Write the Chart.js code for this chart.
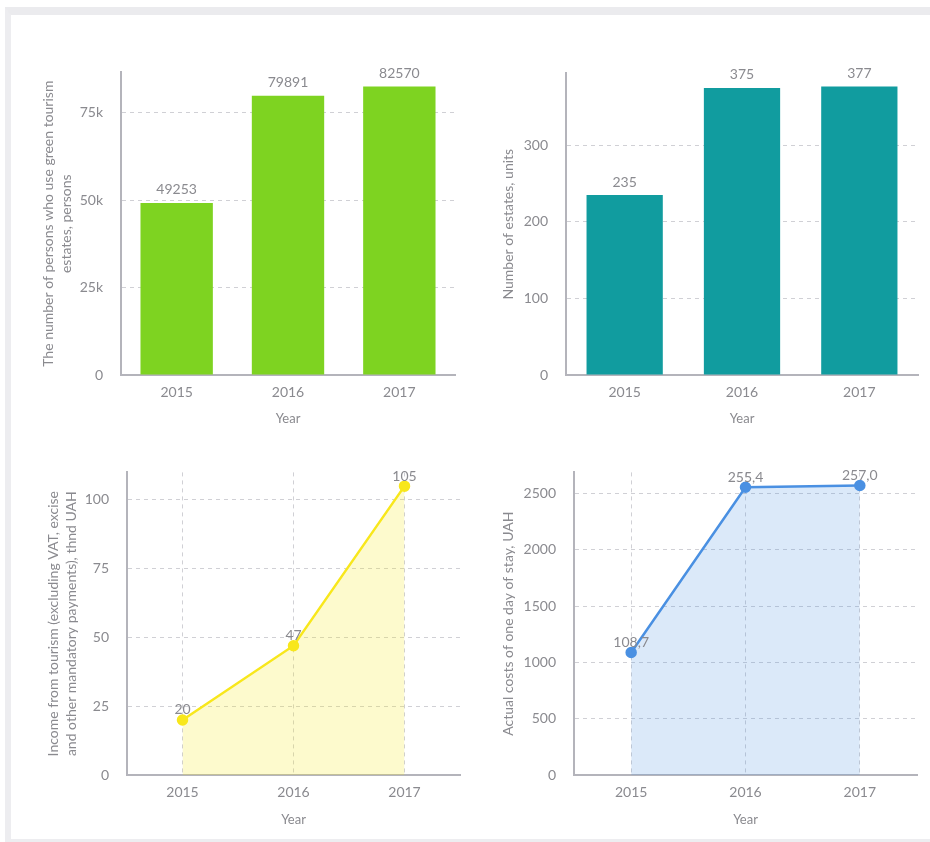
<!DOCTYPE html>
<html>
<head>
<meta charset="utf-8">
<script src="https://cdn.jsdelivr.net/npm/chart.js@4.4.0/dist/chart.umd.min.js"></script>
<style>
  html, body { margin: 0; padding: 0; background: #fff; }
  body { width: 930px; height: 842px; position: relative; overflow: hidden; font-family: Lato, sans-serif; }
  #frame {
    position: absolute; left: 5px; top: 7px; width: 940px; height: 824px;
    border-top: 8px solid #ebebee; border-left: 6px solid #ededf0; border-bottom: 3px solid #ededf0;
    background: #fff;
  }
  .box { position: absolute; }
</style>
</head>
<body>
<div id="frame"></div>
<div class="box" style="left:30px; top:46px; width:440px; height:381px;"><canvas id="grafico-pessoas"></canvas></div>
<div class="box" style="left:480px; top:47px; width:450px; height:380px;"><canvas id="grafico-propriedades"></canvas></div>
<div class="box" style="left:30px; top:446px; width:440px; height:382px;"><canvas id="grafico-renda"></canvas></div>
<div class="box" style="left:480px; top:446px; width:450px; height:382px;"><canvas id="grafico-custos"></canvas></div>
<script>
// Categorias (anos)
var anos = ["2015", "2016", "2017"];

// Pessoas que usam propriedades de turismo verde
var dadosPessoas = [49253, 79891, 82570];
var ticksPessoas = [0, 25000, 50000, 75000];
// Número de propriedades
var dadosPropriedades = [235, 375, 377];
var ticksPropriedades = [0, 100, 200, 300];
// Renda do turismo, mil UAH
var dadosRenda = [20, 47, 105];
var ticksRenda = [0, 25, 50, 75, 100];
// Custo de um dia de estadia (valor plotado) e rótulo mostrado
var dadosCustos = [1087, 2554, 2570];
var rotulosCustos = ["108,7", "255,4", "257,0"];
var ticksCustos = [0, 500, 1000, 1500, 2000, 2500];

var corTexto = "#8a8a8f";
var corEixo = "#b4b4bb";
var corGrade = "#d0d0d5";

// plugin simples para escrever os valores acima das barras/pontos
var pluginRotulos = {
  id: "rotulos",
  afterDatasetsDraw: function (chart, args, opts) {
    var ctx = chart.ctx;
    var meta = chart.getDatasetMeta(0);
    var textos = opts.textos || chart.data.datasets[0].data;
    ctx.save();
    ctx.font = "14px Lato";
    ctx.fillStyle = corTexto;
    ctx.textAlign = "center";
    ctx.textBaseline = "bottom";
    meta.data.forEach(function (el, i) {
      ctx.fillText(String(textos[i]), el.x, el.y - (opts.gap || 6));
    });
    ctx.restore();
  },
};

function eixos(cfg) {
  return {
    x: {
      offset: true,
      border: { display: true, color: corEixo, width: 2, dash: [4, 4] },
      grid: {
        display: cfg.gradeX,
        offset: false,
        drawTicks: false,
        color: corGrade,
        lineWidth: 1,
      },
      ticks: { color: corTexto, padding: 9, font: { family: "Lato", size: 14 } },
      title: {
        display: true,
        text: "Year",
        color: corTexto,
        font: { family: "Lato", size: 13 },
        padding: { top: 0, bottom: 0 },
      },
      afterFit: function (s) { s.height = cfg.alturaX; },
    },
    y: {
      min: 0,
      max: cfg.max,
      border: { display: true, color: corEixo, width: 2, dash: [4, 4] },
      grid: {
        drawTicks: false,
        color: function (c) { return c.tick && c.tick.value === 0 ? "rgba(0,0,0,0)" : corGrade; },
        lineWidth: 1,
      },
      ticks: {
        color: corTexto,
        padding: 18,
        font: { family: "Lato", size: 14 },
        callback: cfg.formato,
      },
      afterBuildTicks: function (s) {
        s.ticks = cfg.ticks.map(function (v) { return { value: v }; });
      },
      title: {
        display: true,
        text: cfg.tituloY,
        color: corTexto,
        font: { family: "Lato", size: 14, lineHeight: 1.3 },
        padding: { top: cfg.padTitulo, bottom: 0 },
      },
      afterFit: function (s) { s.width = cfg.larguraY; },
    },
  };
}

function semFormato(v) { return v; }

// Gráfico 1 - pessoas
new Chart(document.getElementById("grafico-pessoas"), {
  type: "bar",
  data: {
    labels: anos,
    datasets: [{ data: dadosPessoas, backgroundColor: "#7ed321", barPercentage: 0.65, categoryPercentage: 1 }],
  },
  options: {
    responsive: true, maintainAspectRatio: false, animation: false,
    layout: { padding: { left: 0, top: 0, right: 15, bottom: 0 } },
    plugins: { legend: { display: false }, tooltip: { enabled: false }, rotulos: {} },
    scales: eixos({
      gradeX: false, alturaX: 52, max: 86600, ticks: ticksPessoas, larguraY: 91, padTitulo: 9,
      tituloY: ["The number of persons who use green tourism", "estates, persons"],
      formato: function (v) { return v === 0 ? "0" : v / 1000 + "k"; },
    }),
  },
  plugins: [pluginRotulos],
});

// Gráfico 2 - propriedades
new Chart(document.getElementById("grafico-propriedades"), {
  type: "bar",
  data: {
    labels: anos,
    datasets: [{ data: dadosPropriedades, backgroundColor: "#119c9f", barPercentage: 0.65, categoryPercentage: 1 }],
  },
  options: {
    responsive: true, maintainAspectRatio: false, animation: false,
    layout: { padding: { left: 0, top: 0, right: 12, bottom: 0 } },
    plugins: { legend: { display: false }, tooltip: { enabled: false }, rotulos: {} },
    scales: eixos({
      gradeX: false, alturaX: 52, max: 394, ticks: ticksPropriedades, larguraY: 86, padTitulo: 19,
      tituloY: "Number of estates, units",
      formato: semFormato,
    }),
  },
  plugins: [pluginRotulos],
});

// Gráfico 3 - renda
new Chart(document.getElementById("grafico-renda"), {
  type: "line",
  data: {
    labels: anos,
    datasets: [{
      data: dadosRenda,
      borderColor: "#f8e71c",
      backgroundColor: "rgba(248,231,28,0.22)",
      pointBackgroundColor: "#f8e71c",
      pointBorderColor: "#f8e71c",
      pointRadius: 4.5,
      borderWidth: 2.5,
      fill: "origin",
      tension: 0,
    }],
  },
  options: {
    responsive: true, maintainAspectRatio: false, animation: false,
    layout: { padding: { left: 0, top: 0, right: 10, bottom: 0 } },
    plugins: { legend: { display: false }, tooltip: { enabled: false }, rotulos: { gap: 3 } },
    scales: eixos({
      gradeX: true, alturaX: 53, max: 110, ticks: ticksRenda, larguraY: 97, padTitulo: 14,
      tituloY: ["Income from tourism (excluding VAT, excise", "and other mandatory payments), thnd UAH"],
      formato: semFormato,
    }),
  },
  plugins: [pluginRotulos],
});

// Gráfico 4 - custos
new Chart(document.getElementById("grafico-custos"), {
  type: "line",
  data: {
    labels: anos,
    datasets: [{
      data: dadosCustos,
      borderColor: "#4a90e2",
      backgroundColor: "rgba(74,144,226,0.2)",
      pointBackgroundColor: "#4a90e2",
      pointBorderColor: "#4a90e2",
      pointRadius: 4.5,
      borderWidth: 2.5,
      fill: "origin",
      tension: 0,
    }],
  },
  options: {
    responsive: true, maintainAspectRatio: false, animation: false,
    layout: { padding: { left: 0, top: 0, right: 13, bottom: 0 } },
    plugins: { legend: { display: false }, tooltip: { enabled: false }, rotulos: { textos: rotulosCustos, gap: 3 } },
    scales: eixos({
      gradeX: true, alturaX: 53, max: 2686, ticks: ticksCustos, larguraY: 94, padTitulo: 19,
      tituloY: "Actual costs of one day of stay, UAH",
      formato: semFormato,
    }),
  },
  plugins: [pluginRotulos],
});
</script>
</body>
</html>
